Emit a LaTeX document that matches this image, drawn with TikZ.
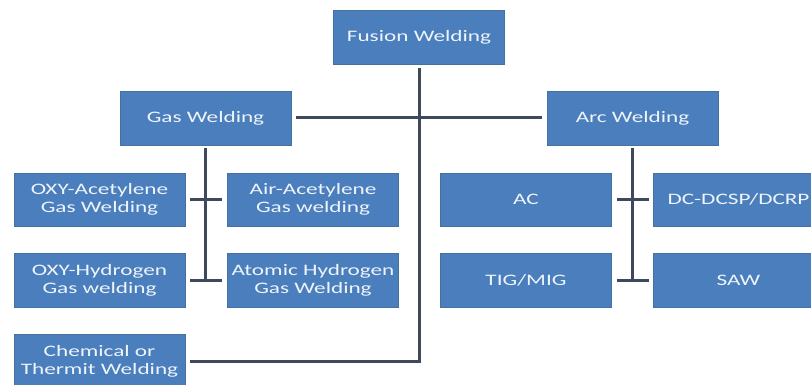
\documentclass[tikz,border=0pt]{standalone}
\usepackage{fontspec}
\setmainfont{Carlito}[FakeStretch=1.45]
\definecolor{boxblue}{HTML}{4B7EBC}
\definecolor{boxedge}{HTML}{44729F}
\definecolor{linecol}{HTML}{3E4A5C}
\definecolor{txtcol}{HTML}{EEF4FB}
\tikzset{
  wbox/.style={draw=boxedge, line width=0.6pt, fill=boxblue, text=txtcol, minimum width=171pt, minimum height=54pt, inner sep=0pt, align=center, font=\fontsize{16pt}{17.7pt}\selectfont},
  conn/.style={draw=linecol, line width=3pt},
}
\begin{document}
\begin{tikzpicture}[x=1pt,y=-1pt]
\useasboundingbox (0,0) rectangle (811,385);
\fill[white] (0,0) rectangle (811,385);
\clip (0,0) rectangle (811,385);
\node[wbox] (fusion) at (419,37) {Fusion Welding};
\node[wbox] (gas) at (205.5,118) {Gas Welding};
\node[wbox] (arc) at (632.5,118) {Arc Welding};
\node[wbox, minimum height=53pt] (oxa) at (99.5,199.5) {OXY-Acetylene\\Gas Welding};
\node[wbox, minimum height=53pt] (aira) at (313,199.5) {Air-Acetylene\\Gas welding};
\node[wbox, minimum height=53pt] (ac) at (526,199.5) {AC};
\node[wbox, minimum height=53pt] (dc) at (738.5,199.5) {DC-DCSP/DCRP};
\node[wbox] (oxh) at (99.5,280) {OXY-Hydrogen\\Gas welding};
\node[wbox] (atom) at (313,280) {Atomic Hydrogen\\Gas Welding};
\node[wbox] (tig) at (526,280) {TIG/MIG};
\node[wbox] (saw) at (738.5,280) {SAW};
\node[wbox] (chem) at (99.5,361.5) {Chemical or\\Thermit Welding};
% connectors
\draw[conn, shorten <=4pt, shorten >=5pt] (fusion.south) |- (chem.east);
\draw[conn, shorten <=5pt, shorten >=5pt] (gas.east) -- (arc.west);
\draw[conn, shorten <=3pt] (gas.south) -- (gas.south |- oxh.east);
\draw[conn, shorten <=5pt, shorten >=5pt] (oxa.east) -- (aira.west);
\draw[conn, shorten <=5pt, shorten >=5pt] (oxh.east) -- (atom.west);
\draw[conn, shorten <=3pt] (arc.south) -- (arc.south |- tig.east);
\draw[conn, shorten <=5pt, shorten >=4pt] (ac.east) -- (dc.west);
\draw[conn, shorten <=5pt, shorten >=4pt] (tig.east) -- (saw.west);
\end{tikzpicture}
\end{document}
